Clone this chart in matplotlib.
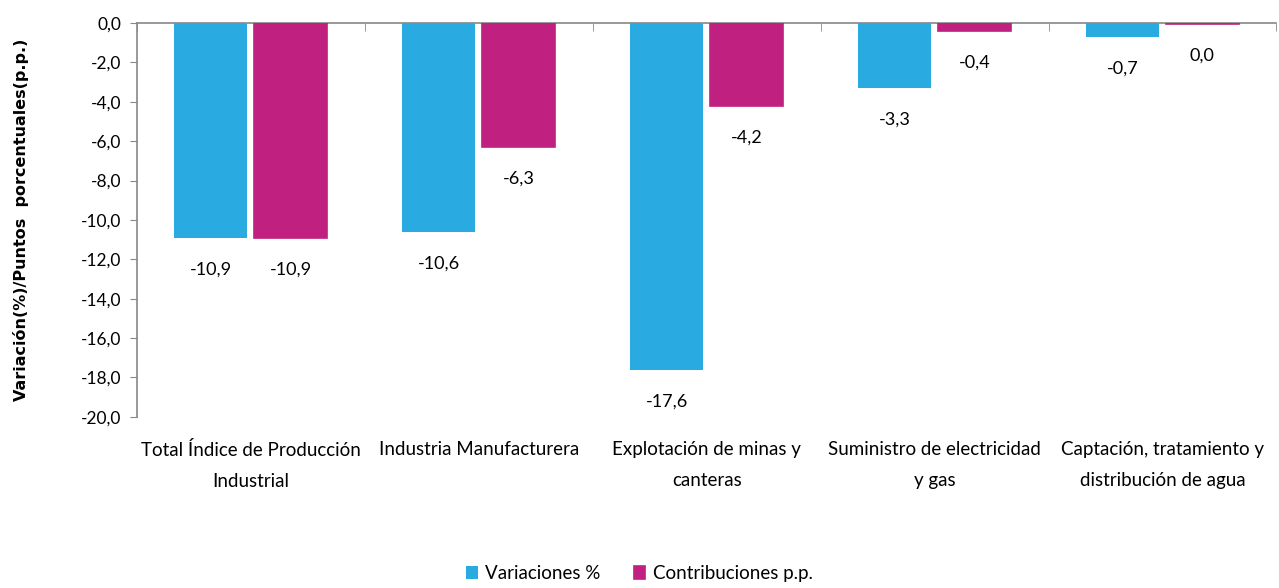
import matplotlib
matplotlib.use("Agg")
import matplotlib.pyplot as plt
import numpy as np

categories = ["Total Índice de Producción\nIndustrial", "Industria Manufacturera",
              "Explotación de minas y\ncanteras", "Suministro de electricidad\ny gas",
              "Captación, tratamiento y\ndistribución de agua"]
variaciones = [-10.9, -10.6, -17.6, -3.3, -0.7]
contribuciones = [-10.9, -6.3, -4.2, -0.4, -0.04]
series_names = ["Variaciones %", "Contribuciones p.p."]
yticks = np.arange(0, -20.1, -2)

plt.rcParams['font.family'] = ['Lato', 'DejaVu Sans']
fig = plt.figure(figsize=(12.79, 5.88), dpi=100)
ax = fig.add_axes([0.107, 0.291, 0.891, 0.670])

blue = "#29ABE2"
mag = "#C0207F"
x = np.arange(len(categories))
w = 0.32
gap = 0.015
b1 = ax.bar(x - w/2 - gap, variaciones, w, color=blue, label=series_names[0])
b2 = ax.bar(x + w/2 + gap, contribuciones, w, color=mag, label=series_names[1],
            edgecolor=mag, linewidth=1.2)

def fmt(v):
    s = f"{v:.1f}"
    if s == "-0.0":
        s = "0.0"
    return s.replace(".", ",")

for bars, vals in ((b1, variaciones), (b2, contribuciones)):
    for r, v in zip(bars, vals):
        ax.annotate(fmt(v), (r.get_x() + r.get_width()/2, v), xytext=(0, -32),
                    textcoords="offset pixels",
                    ha="center", va="center", fontsize=13, color="black")

ax.set_xlim(-0.5, len(categories) - 0.5)
ax.set_ylim(-20, 0)
ax.set_yticks(yticks)
ax.set_yticklabels([fmt(t) for t in yticks], fontsize=12.5)
ax.set_xticks(x)
ax.set_xticklabels(categories, fontsize=13.5, linespacing=2.0)
ax.set_xticks(np.arange(-0.5, len(categories)), minor=True)
ax.tick_params(axis='x', which='major', length=0, pad=17)
ax.tick_params(axis='x', which='minor', top=True, bottom=False, direction='in',
               length=6, color="#888888")
ax.tick_params(axis='y', length=5, color="#888888", pad=6)

for s in ("right", "bottom"):
    ax.spines[s].set_visible(False)
for s in ("left", "top"):
    ax.spines[s].set_color("#888888")
    ax.spines[s].set_linewidth(1.2)
ax.spines["top"].set_zorder(0)

ax.set_ylabel("Variación(%)/Puntos  porcentuales(p.p.)", fontsize=11.5,
              fontweight="bold", family=["DejaVu Sans"], labelpad=12)
ax.yaxis.set_label_coords(-0.095, 0.5)

fig.legend(handles=[b1, b2], labels=series_names, loc="center",
           bbox_to_anchor=(0.5, 0.024), ncol=2, frameon=False, fontsize=13.5,
           handlelength=0.6, handleheight=0.7, handletextpad=0.4, columnspacing=1.8)

fig.savefig("out.png", dpi=100)
